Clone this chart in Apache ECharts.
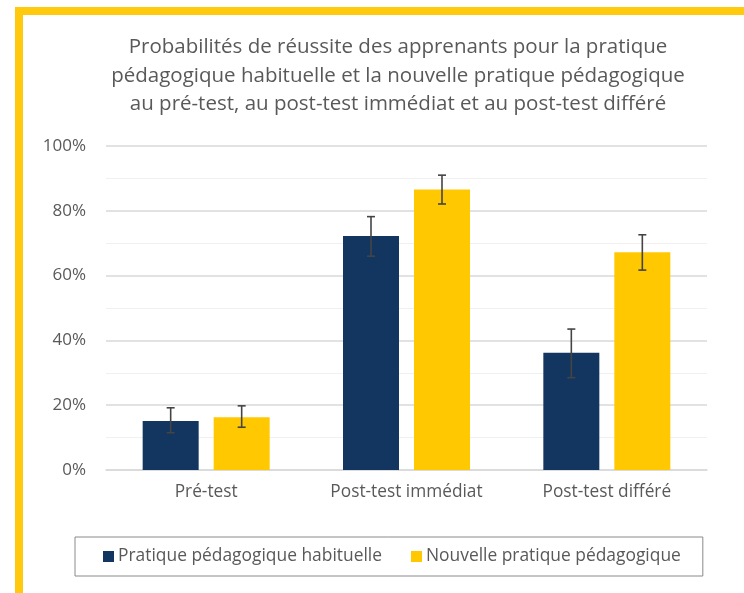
<!DOCTYPE html>
<html><head><meta charset="utf-8">
<script src="https://cdn.jsdelivr.net/npm/echarts@6/dist/echarts.min.js"></script>
<style>html,body{margin:0;padding:0;background:#fff}#c{width:744px;height:593px}</style>
</head><body><div id="c"></div>
<script>
const categories = ['Pré-test', 'Post-test immédiat', 'Post-test différé'];
const seriesNames = ['Pratique pédagogique habituelle', 'Nouvelle pratique pédagogique'];
const habituelle = [15.1, 72.2, 36.2];
const habituelleLow = [11.5, 66.0, 28.5];
const habituelleHigh = [19.2, 78.2, 43.5];
const nouvelle = [16.3, 86.6, 67.2];
const nouvelleLow = [13.2, 82.1, 61.7];
const nouvelleHigh = [19.8, 91.0, 72.6];
const yTicks = [0, 20, 40, 60, 80, 100];
const titleText = 'Probabilités de réussite des apprenants pour la pratique\npédagogique habituelle et la nouvelle pratique pédagogique\nau pré-test, au post-test immédiat et au post-test différé';

const FONT = '"Open Sans", sans-serif';
const BAR_W = 56, BAR_GAP = 15;
const colors = ['#12365F', '#FFC800'];

function errSeries(low, high, dir) {
  return {
    type: 'custom',
    z: 10,
    silent: true,
    data: categories.map((c, i) => [i, low[i], high[i]]),
    renderItem: function (params, api) {
      const i = api.value(0);
      const lo = api.coord([i, api.value(1)]);
      const hi = api.coord([i, api.value(2)]);
      const x = lo[0] + dir * (BAR_W + BAR_GAP) / 2;
      const cap = 4;
      const st = { stroke: '#444', lineWidth: 1.6 };
      return {
        type: 'group',
        children: [
          { type: 'line', shape: { x1: x, y1: lo[1], x2: x, y2: hi[1] }, style: st },
          { type: 'line', shape: { x1: x - cap, y1: hi[1], x2: x + cap, y2: hi[1] }, style: st },
          { type: 'line', shape: { x1: x - cap, y1: lo[1], x2: x + cap, y2: lo[1] }, style: st }
        ]
      };
    }
  };
}

const chart = echarts.init(document.getElementById('c'), null, { renderer: 'canvas' });
chart.setOption({
  animation: false,
  textStyle: { fontFamily: FONT },
  title: {
    text: titleText,
    left: 393, top: 28, textAlign: 'center',
    textStyle: { fontFamily: FONT, fontSize: 20.5, fontWeight: 'normal', color: '#595959', lineHeight: 28.5 }
  },
  graphic: [{
    type: 'rect', silent: true, z: -1,
    shape: { x: 19, y: 11, width: 900, height: 800 },
    style: { fill: 'none', stroke: '#FFC90E', lineWidth: 8 }
  }],
  legend: {
    data: seriesNames,
    left: 75, top: 537,
    padding: [11, 22, 11, 28],
    itemGap: 29, itemWidth: 11, itemHeight: 11,
    borderColor: '#8a8a8a', borderWidth: 1, borderRadius: 0,
    icon: 'rect',
    textStyle: { fontFamily: FONT, fontSize: 17.4, color: '#595959', padding: [0, 0, 0, -1] }
  },
  grid: { left: 106, right: 37, top: 146, bottom: 123, containLabel: false },
  xAxis: {
    type: 'category', data: categories,
    axisTick: { show: false },
    axisLine: { lineStyle: { color: '#d9d9d9', width: 1.5 } },
    axisLabel: { interval: 0, hideOverlap: false, fontFamily: FONT, fontSize: 17.3, color: '#595959', margin: 14 }
  },
  yAxis: {
    type: 'value', min: yTicks[0], max: yTicks[yTicks.length - 1], interval: 20,
    axisLine: { show: false }, axisTick: { show: false },
    axisLabel: { fontFamily: FONT, fontSize: 17, color: '#595959', margin: 20, formatter: '{value}%' },
    splitLine: { lineStyle: { color: '#d9d9d9', width: 1.5 } },
    minorTick: { show: false, splitNumber: 2 },
    minorSplitLine: { show: true, lineStyle: { color: '#f0f0f0', width: 1 } }
  },
  series: [
    { name: seriesNames[0], type: 'bar', data: habituelle, barWidth: BAR_W, barGap: (BAR_GAP / BAR_W * 100) + '%', itemStyle: { color: colors[0] } },
    { name: seriesNames[1], type: 'bar', data: nouvelle, barWidth: BAR_W, itemStyle: { color: colors[1] } },
    errSeries(habituelleLow, habituelleHigh, -1),
    errSeries(nouvelleLow, nouvelleHigh, 1)
  ]
});
</script></body></html>
